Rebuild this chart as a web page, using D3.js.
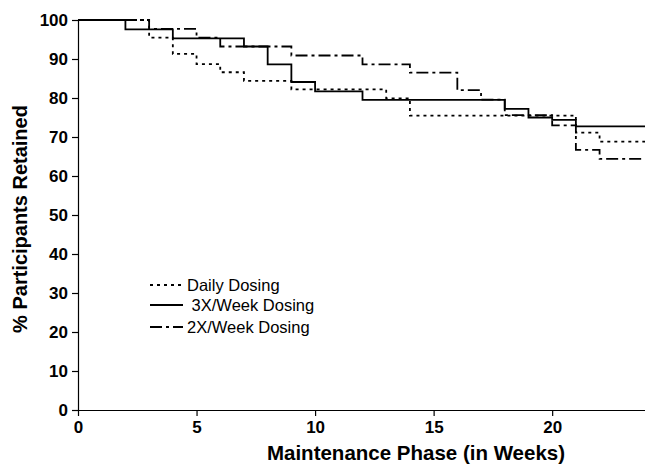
<!DOCTYPE html>
<html><head><meta charset="utf-8">
<script src="https://cdn.jsdelivr.net/npm/d3@7"></script>
<style>body{margin:0;background:#fff}svg{display:block}text{font-family:"Liberation Sans",Arial,sans-serif}</style>
</head><body><svg id="c" width="645" height="465"></svg>
<script>
const xTicks = [0,5,10,15,20];
const yTicks = [0,10,20,30,40,50,60,70,80,90,100];
const seriesNames = ["Daily Dosing"," 3X/Week Dosing","2X/Week Dosing"];
const dailyWeeks = [0,3,4,5,6,7,9,13,14,21,22,24];
const dailyVals  = [100,95.5,91.3,88.7,86.6,84.4,82.2,79.9,75.5,71.1,68.8,68.8];
const threeWeeks = [0,2,4,7,8,9,10,12,18,19,20,21,24];
const threeVals  = [100,97.6,95.3,93.2,88.6,84.1,81.7,79.5,77.2,75.0,74.4,72.7,72.7];
const twoWeeks = [0,3,5,6,9,12,14,16,17,18,20,21,22,24];
const twoVals  = [100,97.7,95.5,93.2,90.9,88.6,86.5,82.0,79.6,75.6,73.0,66.7,64.4,64.4];

const svg = d3.select("#c");
const x = d3.scaleLinear().domain([0,24]).range([78,647]);
const y = d3.scaleLinear().domain([0,100]).range([410,20]);

const styles = [
  {dash:"3,4", w:1.8},
  {dash:null, w:1.8},
  {dash:"12,4,3,4", w:1.8}
];
const series = [
  dailyWeeks.map((d,i)=>[d,dailyVals[i]]),
  threeWeeks.map((d,i)=>[d,threeVals[i]]),
  twoWeeks.map((d,i)=>[d,twoVals[i]])
];
const line = d3.line().x(d=>x(d[0])).y(d=>y(d[1])).curve(d3.curveStepAfter);
series.forEach((s,i)=>{
  svg.append("path").attr("d",line(s)).attr("fill","none").attr("stroke","#000")
    .attr("stroke-width",styles[i].w).attr("stroke-dasharray",styles[i].dash);
});

// axes
const xa = svg.append("g").attr("transform","translate(0,410)")
  .call(d3.axisBottom(x).tickValues(xTicks).tickSize(6).tickSizeOuter(0).tickPadding(5));
const ya = svg.append("g").attr("transform","translate(78,0)")
  .call(d3.axisLeft(y).tickValues(yTicks).tickSize(6).tickSizeOuter(0).tickPadding(4));
[xa,ya].forEach(a=>{
  a.select(".domain").attr("stroke","#000").attr("stroke-width",1.2);
  a.selectAll(".tick line").attr("stroke","#000").attr("stroke-width",1.2);
  a.selectAll("text").attr("font-size",17).attr("font-weight","bold")
   .attr("font-family","'Liberation Sans',Arial,sans-serif").attr("fill","#000");
});

svg.append("text").attr("x",416).attr("y",460).attr("text-anchor","middle")
  .attr("font-size",20.5).attr("font-weight","bold").text("Maintenance Phase (in Weeks)");
svg.append("text").attr("transform","translate(27,219) rotate(-90)").attr("text-anchor","middle")
  .attr("font-size",20).attr("font-weight","bold").text("% Participants Retained");

// legend
const legY = [285,305,327];
seriesNames.forEach((n,i)=>{
  svg.append("line").attr("x1",150).attr("x2",183).attr("y1",legY[i]).attr("y2",legY[i])
    .attr("stroke","#000").attr("stroke-width",styles[i].w).attr("stroke-dasharray",styles[i].dash);
  svg.append("text").attr("x",187).attr("y",legY[i]+6).attr("font-size",16.5)
    .attr("xml:space","preserve").style("white-space","pre").text(n);
});
</script></body></html>
